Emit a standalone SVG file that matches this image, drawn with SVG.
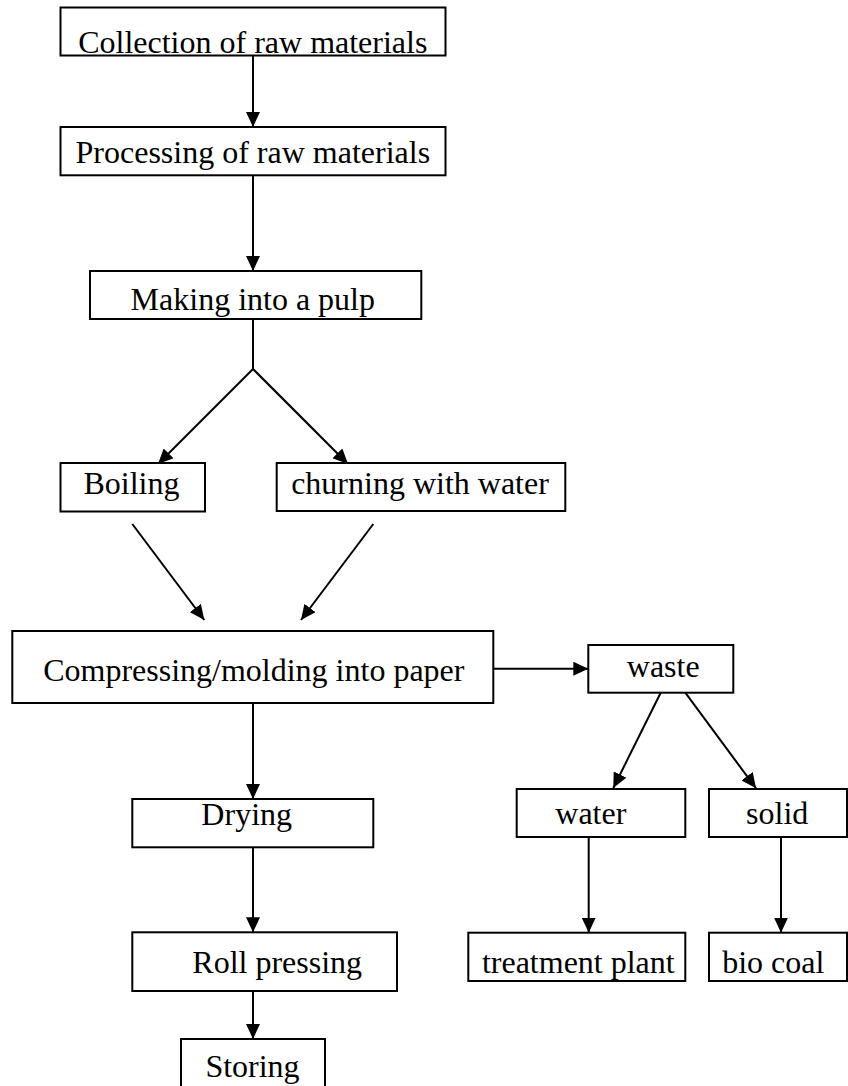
<svg xmlns="http://www.w3.org/2000/svg" width="848" height="1086" viewBox="0 0 848 1086">
<defs>
<marker id="ah" markerUnits="userSpaceOnUse" markerWidth="16" markerHeight="14" refX="15" refY="7" orient="auto">
<path d="M0,0 L15,7 L0,14 z" fill="#000"/>
</marker>
<style>
rect{fill:#fff;stroke:#000;stroke-width:2}
text{font-family:"Liberation Serif","Times New Roman",serif;font-size:32px;fill:#000;text-anchor:middle}
#connectors line{stroke:#000;stroke-width:2}
.a{marker-end:url(#ah)}
</style>
</defs>
<rect x="0" y="0" width="848" height="1086" style="stroke:none"/>
<g id="connectors">
<line class="a" x1="253" y1="55.3" x2="253" y2="127"/>
<line class="a" x1="253" y1="175.3" x2="253" y2="271"/>
<line x1="253" y1="319" x2="253" y2="369"/>
<line class="a" x1="253" y1="369" x2="158" y2="464"/>
<line class="a" x1="253" y1="369" x2="348" y2="464"/>
<line class="a" x1="132.3" y1="524" x2="204.3" y2="620"/>
<line class="a" x1="373.3" y1="524" x2="301" y2="620"/>
<line class="a" x1="493.3" y1="668.7" x2="588.3" y2="668.7"/>
<line class="a" x1="660.7" y1="692.7" x2="613.3" y2="788"/>
<line class="a" x1="685.3" y1="692.7" x2="756" y2="788.3"/>
<line class="a" x1="588.7" y1="837" x2="588.7" y2="932.7"/>
<line class="a" x1="781" y1="837" x2="781" y2="932.7"/>
<line class="a" x1="253" y1="703" x2="253" y2="799"/>
<line class="a" x1="253" y1="847.3" x2="253" y2="932.3"/>
<line class="a" x1="253" y1="991" x2="253" y2="1039"/>
</g>
<g id="n-collection"><rect x="60.5" y="7.5" width="385" height="48"/><text x="252.8" y="52.7">Collection of raw materials</text></g>
<g id="n-processing"><rect x="60.5" y="127" width="385" height="48.3"/><text x="252.8" y="163.3">Processing of raw materials</text></g>
<g id="n-pulp"><rect x="90" y="271" width="331.3" height="48"/><text x="252.8" y="310">Making into a pulp</text></g>
<g id="n-boiling"><rect x="60.5" y="463" width="144.5" height="48.5"/><text x="131.5" y="494.3">Boiling</text></g>
<g id="n-churning"><rect x="276.7" y="463" width="288.6" height="48"/><text x="420" y="494.3">churning with water</text></g>
<g id="n-compressing"><rect x="12.3" y="631" width="481" height="72"/><text x="253.8" y="680.7">Compressing/molding into paper</text></g>
<g id="n-waste"><rect x="588.3" y="645" width="145" height="47.7"/><text x="663.2" y="677.3">waste</text></g>
<g id="n-water"><rect x="516.7" y="789" width="168.6" height="48"/><text x="590.8" y="824.3">water</text></g>
<g id="n-solid"><rect x="709" y="789" width="138" height="48"/><text x="777.2" y="824.3">solid</text></g>
<g id="n-drying"><rect x="132.3" y="799" width="241" height="48.3"/><text x="246.7" y="825">Drying</text></g>
<g id="n-roll"><rect x="132.3" y="932.3" width="264.7" height="58.7"/><text x="277.2" y="972.7">Roll pressing</text></g>
<g id="n-treatment"><rect x="468.3" y="932.7" width="217" height="48.3"/><text x="578.3" y="972.7">treatment plant</text></g>
<g id="n-biocoal"><rect x="709" y="932.7" width="138" height="48.3"/><text x="773.3" y="972.7">bio coal</text></g>
<g id="n-storing"><rect x="181" y="1039" width="144" height="60"/><text x="252.5" y="1077">Storing</text></g>
</svg>
